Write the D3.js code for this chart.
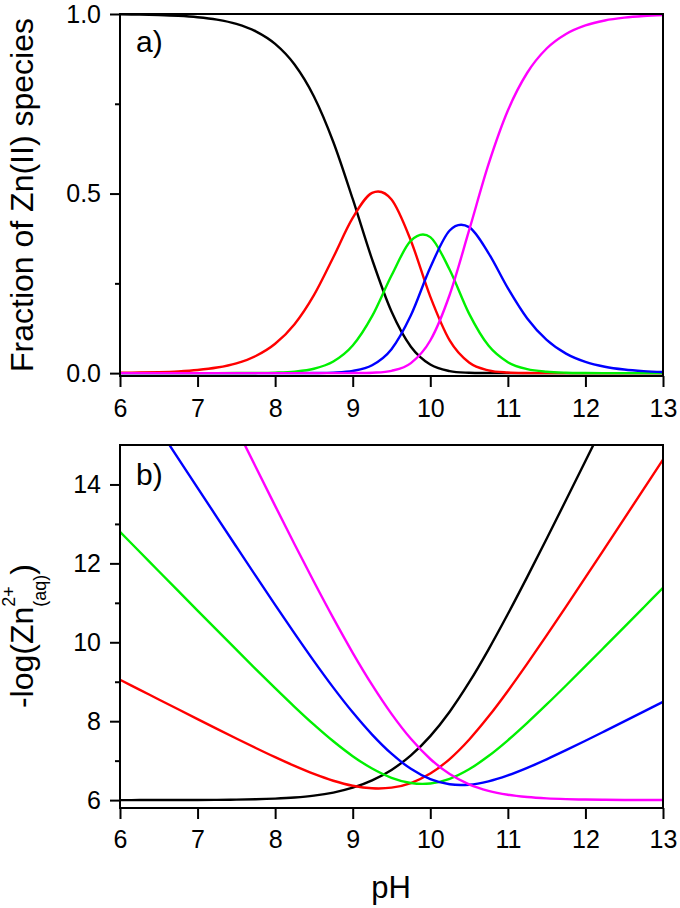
<!DOCTYPE html>
<html>
<head>
<meta charset="utf-8">
<script src="https://cdn.jsdelivr.net/npm/d3@7"></script>
<style>
  html, body { margin: 0; padding: 0; background: #fff; }
  svg { display: block; font-family: "Liberation Sans", Arial, sans-serif; }
</style>
</head>
<body>
<script>
// ---- data ----
const pH = [6,6.25,6.5,6.75,7,7.25,7.5,7.75,8,8.25,8.5,8.75,9,9.25,9.5,9.75,10,10.25,10.5,10.75,11,11.25,11.5,11.75,12,12.25,12.5,12.75,13];

// panel a) fraction of Zn(II) species
const fracZn    = [0.9991,0.9984,0.9972,0.9950,0.9911,0.9843,0.9724,0.9518,0.9168,0.8594,0.7704,0.6437,0.4849,0.3166,0.1715,0.0736,0.0239,0.0057,0.0010,0.0002,0,0,0,0,0,0,0,0,0];
const fracZnOH  = [0.0009,0.0016,0.0028,0.0050,0.0088,0.0156,0.0274,0.0477,0.0817,0.1362,0.2171,0.3226,0.4321,0.5017,0.4834,0.3687,0.2129,0.0910,0.0295,0.0077,0.0017,0.0003,0.0001,0,0,0,0,0,0];
const fracZnOH2 = [0,0,0,0,0,0,0.0002,0.0005,0.0015,0.0043,0.0122,0.0323,0.0768,0.1586,0.2718,0.3687,0.3786,0.2878,0.1656,0.0766,0.0305,0.0110,0.0038,0.0012,0.0004,0.0001,0,0,0];
const fracZnOH3 = [0,0,0,0,0,0,0,0,0,0.0001,0.0003,0.0014,0.0060,0.0219,0.0667,0.1610,0.2939,0.3972,0.4066,0.3344,0.2366,0.1522,0.0925,0.0543,0.0313,0.0179,0.0101,0.0057,0.0032];
const fracZnOH4 = [0,0,0,0,0,0,0,0,0,0,0,0,0.0002,0.0012,0.0065,0.0280,0.0908,0.2183,0.3973,0.5812,0.7312,0.8364,0.9039,0.9444,0.9683,0.9820,0.9898,0.9943,0.9968];

// panel b) -log(Zn2+(aq))
const pZnBlack   = [6.000,6.001,6.001,6.002,6.004,6.007,6.012,6.021,6.038,6.066,6.113,6.191,6.314,6.500,6.766,7.133,7.622,8.241,8.981,9.816,10.716,11.658,12.624,13.605,14.594,15.588,16.584,17.582,18.581];
const pZnRed     = [9.050,8.801,8.551,8.302,8.054,7.807,7.562,7.321,7.088,6.866,6.663,6.491,6.364,6.300,6.316,6.433,6.672,7.041,7.531,8.116,8.766,9.458,10.174,10.905,11.644,12.388,13.134,13.882,14.631];
const pZnGreen   = [12.800,12.301,11.801,11.302,10.804,10.307,9.812,9.321,8.838,8.366,7.913,7.491,7.114,6.800,6.566,6.433,6.422,6.541,6.781,7.116,7.516,7.958,8.424,8.905,9.394,9.888,10.384,10.882,11.381];
const pZnBlue    = [16.910,16.161,15.411,14.662,13.914,13.167,12.422,11.681,10.948,10.226,9.523,8.851,8.224,7.660,7.176,6.793,6.532,6.401,6.391,6.476,6.626,6.818,7.034,7.265,7.504,7.748,7.994,8.242,8.491];
const pZnMagenta = [21.420,20.421,19.421,18.422,17.424,16.427,15.432,14.441,13.458,12.486,11.533,10.611,9.734,8.920,8.186,7.553,7.042,6.661,6.401,6.236,6.136,6.078,6.044,6.025,6.014,6.008,6.004,6.002,6.001];

const colors = ["#000000","#ff0000","#00f000","#0000ff","#ff00ff"];
const xTicks = [6,7,8,9,10,11,12,13];
const yTicksA = [0,0.5,1.0];
const yMinorA = [0.25,0.75];
const yTicksB = [6,8,10,12,14];
const yMinorB = [7,9,11,13];

// ---- drawing ----
const W = 680, H = 908;
const svg = d3.select("body").append("svg").attr("width", W).attr("height", H);

const x = d3.scaleLinear().domain([6,13]).range([120,663]);
const yA = d3.scaleLinear().domain([-0.008,1]).range([376,14]);
const yB = d3.scaleLinear().domain([5.8,15]).range([808,445]);

const FS = 25;

function panel(yScale, yTicks, yMinor, yFmt, series, labelText, labelY, xLabelPad, clipId) {
  const [r0, r1] = yScale.range(); // bottom, top
  const g = svg.append("g");

  svg.append("clipPath").attr("id", clipId)
    .append("rect").attr("x", 120).attr("y", r1).attr("width", 543).attr("height", r0 - r1);

  const line = d3.line().x((d,i) => x(pH[i])).y(d => yScale(d)).curve(d3.curveCatmullRom.alpha(0));
  const cg = g.append("g").attr("clip-path", `url(#${clipId})`);
  series.forEach((s, k) => {
    cg.append("path").attr("d", line(s)).attr("fill","none")
      .attr("stroke", colors[k]).attr("stroke-width", 2.4).attr("stroke-linejoin","round");
  });

  const xa = g.append("g").attr("transform", `translate(0,${r0})`)
    .call(d3.axisBottom(x).tickValues(xTicks).tickFormat(d3.format("d")).tickSize(11).tickSizeOuter(0).tickPadding(xLabelPad));
  const ya = g.append("g").attr("transform", `translate(120,0)`)
    .call(d3.axisLeft(yScale).tickValues(yTicks).tickFormat(yFmt).tickSize(10).tickSizeOuter(0).tickPadding(9));
  const ym = g.append("g").attr("transform", `translate(120,0)`)
    .call(d3.axisLeft(yScale).tickValues(yMinor).tickFormat("").tickSize(5).tickSizeOuter(0));
  [xa, ya, ym].forEach(a => {
    a.select(".domain").remove();
    a.selectAll(".tick line").attr("stroke","#000").attr("stroke-width",2);
    a.selectAll(".tick text").attr("fill","#000").style("font-size", FS + "px")
      .style("font-family", '"Liberation Sans", Arial, sans-serif');
  });

  g.append("rect").attr("x",120).attr("y",r1).attr("width",543).attr("height",r0-r1)
    .attr("fill","none").attr("stroke","#000").attr("stroke-width",2);

  g.append("text").attr("x",136).attr("y",labelY).text(labelText)
    .style("font-size","30px").attr("fill","#000");
}

panel(yA, yTicksA, yMinorA, d3.format(".1f"),
  [fracZn, fracZnOH, fracZnOH2, fracZnOH3, fracZnOH4], "a)", 52, 12, "clipA");
panel(yB, yTicksB, yMinorB, d3.format("d"),
  [pZnBlack, pZnRed, pZnGreen, pZnBlue, pZnMagenta], "b)", 485, 11, "clipB");

// axis titles
svg.append("text").attr("transform","translate(33,195) rotate(-90)")
  .attr("text-anchor","middle").style("font-size","32px").attr("fill","#000")
  .text("Fraction of Zn(II) species");

const tb = svg.append("text").attr("transform","translate(33,636) rotate(-90)")
  .attr("text-anchor","middle").style("font-size","32px").attr("fill","#000");
tb.append("tspan").text("-log(Zn");
tb.append("tspan").attr("dy",-18).style("font-size","18px").text("2+");
tb.append("tspan").attr("dx",-20.5).attr("dy",31).style("font-size","18px").text("(aq)");
tb.append("tspan").attr("dy",-13).text(")");

svg.append("text").attr("x",391).attr("y",898).attr("text-anchor","middle")
  .style("font-size","31px").attr("fill","#000").text("pH");
</script>
</body>
</html>
